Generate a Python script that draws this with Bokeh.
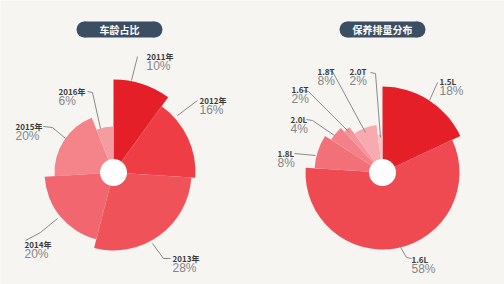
import math
from bokeh.plotting import figure
from bokeh.models import ColumnDataSource
from bokeh.core.properties import value
from bokeh.embed import file_html
from bokeh.resources import INLINE

# ---- data ----
left_title = "车龄占比"
left_cats = ["2011年", "2012年", "2013年", "2014年", "2015年", "2016年"]
left_vals = [10, 16, 28, 20, 20, 6]

right_title = "保养排量分布"
right_cats = ["1.5L", "1.6L", "1.8L", "2.0L", "1.6T", "1.8T", "2.0T"]
right_vals = [18, 58, 8, 4, 2, 8, 2]

# ---- styles ----
BG = "#f6f5f2"
left_colors = ["#e41f28", "#ee3d44", "#f0525a", "#f2676f", "#f4838a", "#f59ca1"]
right_colors = ["#e41f28", "#ef4a52", "#f27078", "#f38189", "#f5949a", "#f7abb0", "#f9c4c7"]
left_radii = [93, 82, 78, 69, 59, 46]
right_radii = [86, 77, 68, 61, 56, 48, 38]
left_center = (113, 172)
right_center = (382, 172)
# label anchors (pixel coords, top-left of name) and leader paths
left_label_pos = [(146, 50), (199, 94), (172, 252), (24, 238), (15, 120), (58, 85)]
left_leaders = [
    [(137, 56), (131, 80)],
    [(197, 100), (177, 115)],
    [(170, 258), (163, 258), (152, 243)],
    [(25, 240), (40, 232), (57, 218)],
    [(43, 126), (52, 127), (65, 138)],
    [(87, 91), (92, 92), (100, 128)],
]
right_label_pos = [(439, 75), (411, 253), (277, 147), (290, 113), (291, 83), (317, 65), (349, 65)]
right_leaders = [
    [(437, 82), (429, 100)],
    [(411, 258), (406, 257), (399, 245)],
    [(294, 153), (315, 155)],
    [(306, 119), (312, 120), (334, 135)],
    [(302, 90), (308, 91), (349, 132)],
    [(327, 70), (332, 71), (365, 132)],
    [(370, 72), (375, 73), (380, 137)],
]

W, H = 504, 284
p = figure(width=W, height=H, x_range=(0, W), y_range=(0, H),
           output_backend="svg", toolbar_location=None, min_border=0)
p.axis.visible = False
p.grid.visible = False
p.outline_line_color = None
p.background_fill_color = BG
p.border_fill_color = BG

def fy(y):
    return H - y

def rose(cats, vals, colors, radii, center):
    total = float(sum(vals))
    starts, ends = [], []
    cum = 0.0
    for v in vals:
        a0 = math.pi / 2 - 2 * math.pi * (cum + v) / total
        a1 = math.pi / 2 - 2 * math.pi * cum / total
        starts.append(a0)
        ends.append(a1)
        cum += v
    src = ColumnDataSource(dict(x=[center[0]] * len(vals), y=[fy(center[1])] * len(vals),
                                r=radii, s=starts, e=ends, c=colors))
    p.annular_wedge(x="x", y="y", inner_radius=0, outer_radius="r", start_angle="s",
                    end_angle="e", fill_color="c", line_color=None, source=src)
    p.circle(x=[center[0]], y=[fy(center[1])], radius=13.5, fill_color="#ffffff", line_color=None)

def labels(cats, vals, pos, leaders):
    for (name, v, (lx, ly), path) in zip(cats, vals, pos, leaders):
        p.line([q[0] for q in path], [fy(q[1]) for q in path], line_color="#8a8a8a", line_width=1)
        p.text(x=[lx], y=[fy(ly)], text=[name], text_font=value("Noto Sans CJK SC"),
               text_font_size="8px", text_font_style="bold", text_color="#3a3a3a",
               text_align="left", text_baseline="top")
        p.text(x=[lx], y=[fy(ly + 8)], text=[f"{v}%"], text_font=value("Liberation Sans"),
               text_font_size="12px", text_color="#858585",
               text_align="left", text_baseline="top")

def pill(cx, cy, w, h, label):
    r = h / 2
    p.rect(x=[cx], y=[fy(cy)], width=w - h, height=h, fill_color="#3c4e64", line_color=None)
    p.circle(x=[cx - (w - h) / 2, cx + (w - h) / 2], y=[fy(cy)] * 2, radius=r,
             fill_color="#3c4e64", line_color=None)
    p.text(x=[cx], y=[fy(cy)], text=[label], text_font=value("Noto Sans CJK SC"),
           text_font_size="10px", text_font_style="bold", text_color="#ffffff",
           text_align="center", text_baseline="middle")

rose(left_cats, left_vals, left_colors, left_radii, left_center)
rose(right_cats, right_vals, right_colors, right_radii, right_center)
labels(left_cats, left_vals, left_label_pos, left_leaders)
labels(right_cats, right_vals, right_label_pos, right_leaders)
pill(119, 29, 86, 16, left_title)
pill(382, 29, 86, 16, right_title)

open("out.html", "w").write(file_html(p, INLINE))
